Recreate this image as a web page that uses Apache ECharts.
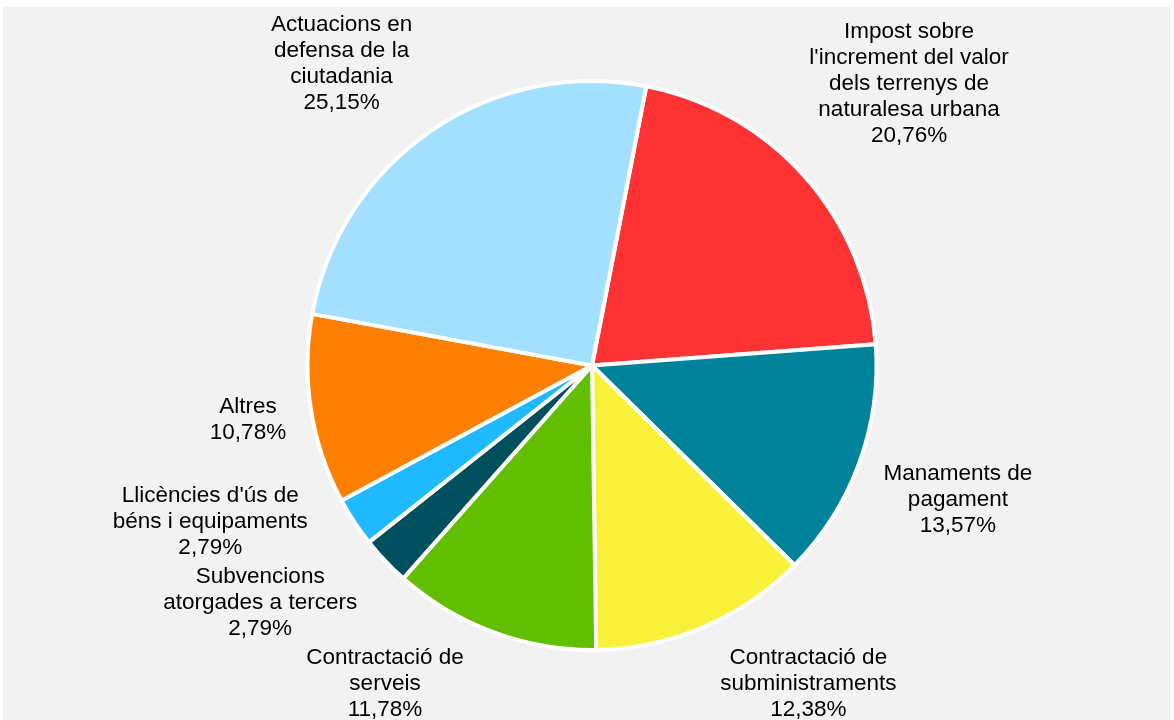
<!DOCTYPE html>
<html><head><meta charset="utf-8">
<script src="https://cdn.jsdelivr.net/npm/echarts@6/dist/echarts.min.js"></script>
<style>
html,body{margin:0;padding:0;background:#fff;width:1174px;height:720px;overflow:hidden}
#bg{position:absolute;left:3px;top:7px;right:3px;bottom:0;background:#f2f2f2}
#chart{position:absolute;left:0;top:0;width:1174px;height:720px}
</style></head><body><div id="bg"></div><div id="chart"></div>
<script>
// ---- data ----
const categories = [
  "Impost sobre\nl'increment del valor\ndels terrenys de\nnaturalesa urbana",
  "Manaments de\npagament",
  "Contractació de\nsubministraments",
  "Contractació de\nserveis",
  "Subvencions\natorgades a tercers",
  "Llicències d'ús de\nbéns i equipaments",
  "Altres",
  "Actuacions en\ndefensa de la\nciutadania"
];
const values = [20.76, 13.57, 12.38, 11.78, 2.79, 2.79, 10.78, 25.15];
const colors = ['#ff3333', '#00829b', '#f9f03a', '#62bf00', '#004f5f', '#1fb9ff', '#ff8000', '#a3e0ff'];

// ---- layout ----
const CX = 592, CY = 365.5, R = 284.5, BW = 4, START = 79;
const FONT_SIZE = 22.5, LINE_H = 26, FONT_FAMILY = '"Liberation Sans", Arial, sans-serif';
const GAP = 20, SLIDE_GAP = 21, TOP_LIMIT = 12, BOTTOM_LIMIT = 723, PAD = 3;
const RG = R + BW / 2 + GAP;
const RS = R + BW / 2 + SLIDE_GAP;

function fmtPct(v) { return v.toFixed(2).replace('.', ',') + '%'; }
function labelText(i) { return categories[i] + '\n' + fmtPct(values[i]); }

const ctx = document.createElement('canvas').getContext('2d');
ctx.font = FONT_SIZE + 'px ' + FONT_FAMILY;
const total = values.reduce((a, b) => a + b, 0);
let acc = 0;
const labels = values.map((v, i) => {
  const startDeg = (90 - START) + acc / total * 360;
  acc += v;
  const mid = (startDeg + (v / total * 360) / 2) * Math.PI / 180;
  const dx = Math.sin(mid), dy = -Math.cos(mid);
  const lines = labelText(i).split('\n');
  const w = Math.max(...lines.map(l => ctx.measureText(l).width)) / 2;
  const h = lines.length * LINE_H / 2;
  const t = RG + Math.abs(dx) * w + Math.abs(dy) * h;
  return { i, dx, dy, w, h, side: dx >= 0 ? 1 : -1, x: CX + dx * t, y: CY + dy * t, moved: false };
});
labels.forEach(L => {
  if (L.y - L.h < TOP_LIMIT) { L.y = TOP_LIMIT + L.h; L.moved = true; }
  if (L.y + L.h > BOTTOM_LIMIT) { L.y = BOTTOM_LIMIT - L.h; L.moved = true; }
});
[-1, 1].forEach(side => {
  const g = labels.filter(L => L.side === side).sort((a, b) => a.y - b.y);
  for (let k = g.length - 2; k >= 0; k--) {
    const lo = g[k + 1], up = g[k];
    const maxY = lo.y - lo.h - PAD - up.h;
    if (up.y > maxY) { up.y = maxY; up.moved = true; }
  }
  for (let k = 0; k < g.length; k++) {
    const minY = k === 0 ? TOP_LIMIT + g[k].h : g[k - 1].y + g[k - 1].h + PAD + g[k].h;
    if (g[k].y < minY) { g[k].y = minY; g[k].moved = true; }
  }
});
labels.forEach(L => {
  if (!L.moved) return;
  const near = Math.max(0, Math.abs(L.y - CY) - L.h);
  if (near < RS) {
    const xe = Math.sqrt(RS * RS - near * near);
    L.x = CX + L.side * (xe + L.w);
  }
});

const chart = echarts.init(document.getElementById('chart'), null, { renderer: 'canvas' });
chart.setOption({
  backgroundColor: 'transparent',
  animation: false,
  series: [{
    type: 'pie',
    center: [CX, CY],
    radius: R,
    startAngle: START,
    clockwise: true,
    avoidLabelOverlap: false,
    data: values.map((v, i) => ({ name: categories[i], value: v, itemStyle: { color: colors[i] } })),
    itemStyle: { borderColor: '#ffffff', borderWidth: BW },
    label: {
      show: true,
      position: 'outside',
      formatter: p => labelText(p.dataIndex),
      color: '#000',
      fontSize: FONT_SIZE,
      lineHeight: LINE_H,
      fontFamily: FONT_FAMILY
    },
    labelLine: { show: false },
    labelLayout: p => {
      const L = labels[p.dataIndex];
      return { x: L.x, y: L.y, align: 'center', verticalAlign: 'middle' };
    },
    emphasis: { disabled: true }
  }]
});
</script></body></html>
